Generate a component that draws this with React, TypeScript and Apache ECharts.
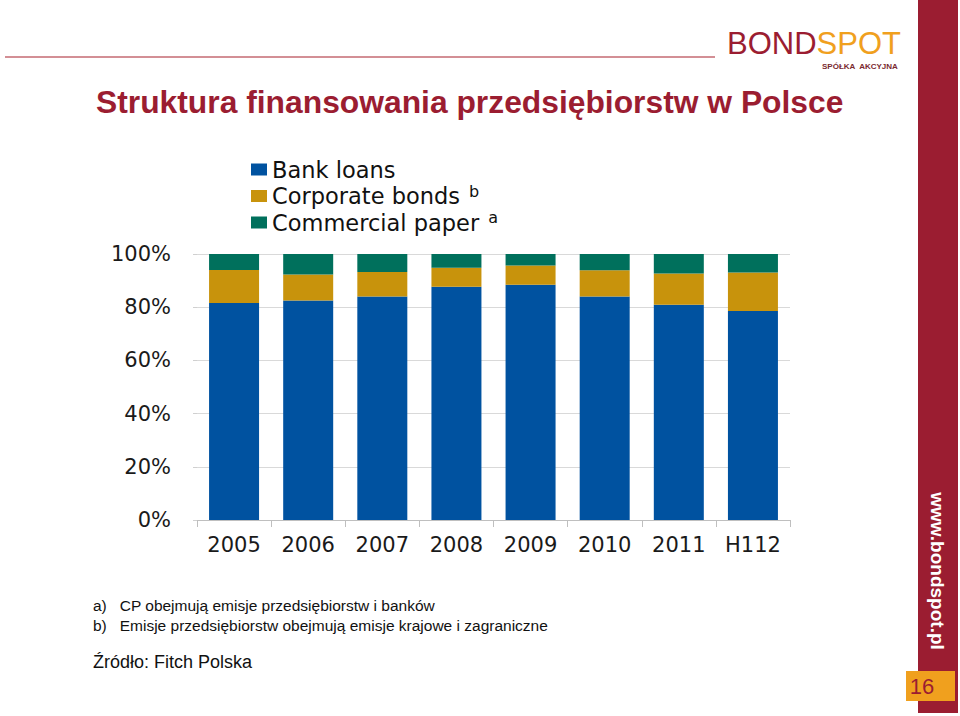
import React, { useEffect, useRef } from "react";
import * as echarts from "echarts";

const categories = ["2005", "2006", "2007", "2008", "2009", "2010", "2011", "H112"];
const bankLoans = [81.6, 82.5, 84.0, 87.7, 88.4, 84.0, 80.9, 78.6];
const corporateBonds = [12.4, 9.8, 9.2, 7.1, 7.3, 9.9, 11.8, 14.4];
const commercialPaper = [6.0, 7.7, 6.8, 5.2, 4.3, 6.1, 7.3, 7.0];
const yTicks = [0, 20, 40, 60, 80, 100];

const RED = "#9B1D31";
const ORANGE = "#F0A01E";
const FONT = "'DejaVu Sans', Verdana, sans-serif";
const ARIAL = "'Liberation Sans', Arial, sans-serif";

export default function App() {
  const ref = useRef<HTMLDivElement>(null);
  useEffect(() => {
    if (!ref.current) return;
    const chart = echarts.init(ref.current, null, { renderer: "svg" });
    const sup = { fontSize: 16, fontFamily: FONT, color: "#111", verticalAlign: "top", padding: [0, 0, 10, 2] };
    chart.setOption({
      animation: false,
      backgroundColor: "#ffffff",
      legend: {
        orient: "vertical",
        left: 246,
        top: 153,
        itemWidth: 16,
        itemHeight: 12,
        itemGap: 2,
        icon: "rect",
        textStyle: { fontFamily: FONT, fontSize: 22.5, color: "#111", rich: { sup } },
        formatter: (name: string) => {
          if (name === "Corporate bonds") return name + " {sup|b}";
          if (name === "Commercial paper") return name + " {sup|a}";
          return name;
        },
        data: ["Bank loans", "Corporate bonds", "Commercial paper"],
      },
      grid: { left: 197, right: 170, top: 254, bottom: 196, containLabel: false },
      xAxis: {
        type: "category",
        data: categories,
        axisLine: { lineStyle: { color: "#BFBFBF", width: 1 } },
        axisTick: { show: true, length: 7, lineStyle: { color: "#BFBFBF" } },
        axisLabel: { fontFamily: FONT, fontSize: 21, color: "#1a1a1a", margin: 14, interval: 0 },
      },
      yAxis: {
        type: "value",
        min: yTicks[0],
        max: yTicks[yTicks.length - 1],
        interval: 20,
        axisLine: { show: false },
        axisTick: { show: true, length: 4, lineStyle: { color: "#D0D0D0" } },
        splitLine: { lineStyle: { color: "#D9D9D9", width: 1 } },
        axisLabel: { fontFamily: FONT, fontSize: 21, color: "#1a1a1a", margin: 26, formatter: "{value}%" },
      },
      series: [
        { name: "Bank loans", type: "bar", stack: "s", data: bankLoans, barWidth: 50, itemStyle: { color: "#0052A0" } },
        { name: "Corporate bonds", type: "bar", stack: "s", data: corporateBonds, barWidth: 50, itemStyle: { color: "#C8930C" } },
        { name: "Commercial paper", type: "bar", stack: "s", data: commercialPaper, barWidth: 50, itemStyle: { color: "#00705C" } },
      ],
      graphic: [
        { type: "line", shape: { x1: 5, y1: 57, x2: 715, y2: 57 }, style: { stroke: "#C46A72", lineWidth: 1.5 } },
        {
          type: "text", left: 727, top: 28,
          style: {
            text: "{a|BOND}{b|SPOT}",
            rich: {
              a: { fontFamily: ARIAL, fontSize: 31, fill: RED },
              b: { fontFamily: ARIAL, fontSize: 31, fill: ORANGE },
            },
          },
        },
        { type: "text", left: 822, top: 62, style: { text: "SPÓŁKA  AKCYJNA", fontFamily: ARIAL, fontSize: 8, fontWeight: "bold", fill: "#7A2A30" } },
        { type: "rect", shape: { x: 918, y: 0, width: 40, height: 713 }, style: { fill: RED } },
        {
          type: "text", x: 937, y: 571, rotation: -Math.PI / 2,
          style: { text: "www.bondspot.pl", fontFamily: ARIAL, fontSize: 19, fontWeight: "bold", fill: "#ffffff", align: "center", verticalAlign: "middle" },
        },
        { type: "rect", shape: { x: 906, y: 671, width: 49, height: 30 }, style: { fill: ORANGE } },
        { type: "text", x: 922, y: 686, style: { text: "16", fontFamily: ARIAL, fontSize: 22, fill: RED, align: "center", verticalAlign: "middle" } },
        { type: "text", left: 96, top: 86, style: { text: "Struktura finansowania przedsiębiorstw w Polsce", fontFamily: ARIAL, fontSize: 31.8, fontWeight: "bold", fill: RED } },
        { type: "text", left: 93, top: 597, style: { text: "a)   CP obejmują emisje przedsiębiorstw i banków", fontFamily: ARIAL, fontSize: 15.5, fill: "#111" } },
        { type: "text", left: 93, top: 617, style: { text: "b)   Emisje przedsiębiorstw obejmują emisje krajowe i zagraniczne", fontFamily: ARIAL, fontSize: 15.5, fill: "#111" } },
        { type: "text", left: 93, top: 653, style: { text: "Źródło: Fitch Polska", fontFamily: ARIAL, fontSize: 18, fill: "#111" } },
      ],
    });
    return () => chart.dispose();
  }, []);
  return <div ref={ref} style={{ position: "fixed", left: 0, top: 0, width: 960, height: 716 }} />;
}
